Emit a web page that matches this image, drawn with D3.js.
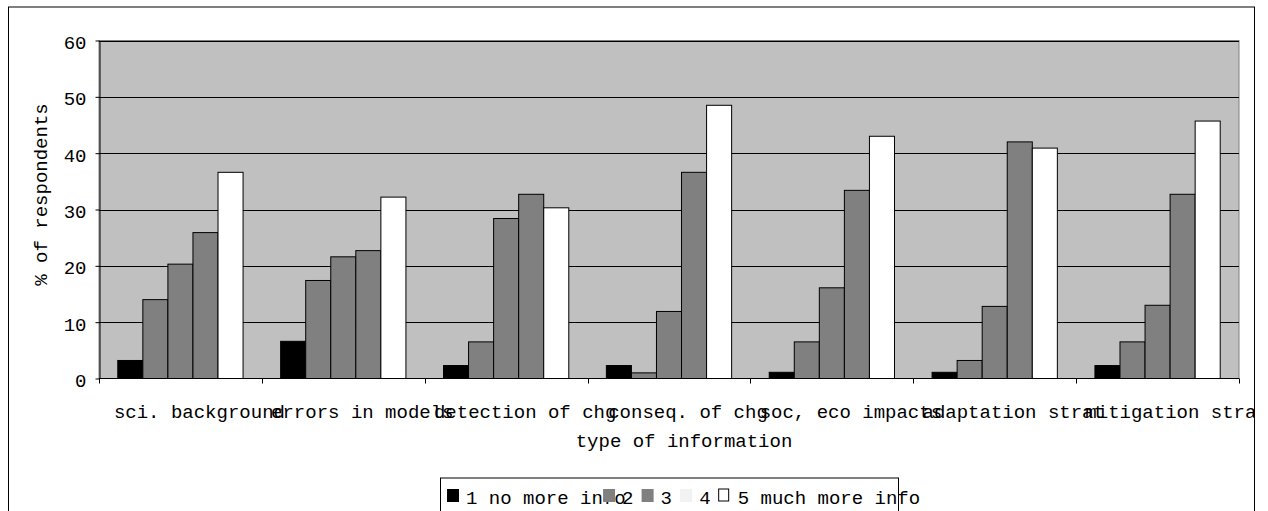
<!DOCTYPE html>
<html>
<head>
<meta charset="utf-8">
<script src="https://cdn.jsdelivr.net/npm/d3@7"></script>
<style>
  html, body { margin: 0; padding: 0; background: #fff; }
  svg { display: block; }
  text { font-family: "Courier New", "Liberation Mono", monospace; fill: #000; }
</style>
</head>
<body>
<svg id="chart" width="1268" height="511"></svg>
<script>
// Survey: how much more information respondents want, by type of information
const categories = ["sci. background", "errors in models", "detection of chg", "conseq. of chg",
                    "soc, eco impacts", "adaptation strat", "mitigation strat"];
const seriesNames = ["1 no more info", "2", "3", "4", "5 much more info"];
const s1 = [3.2, 6.6, 2.3, 2.3, 1.1, 1.1, 2.3];
const s2 = [14.0, 17.4, 6.5, 1.0, 6.5, 3.2, 6.5];
const s3 = [20.3, 21.6, 28.4, 11.9, 16.1, 12.8, 13.0];
const s4 = [25.9, 22.7, 32.7, 36.6, 33.4, 42.0, 32.7];
const s5 = [36.6, 32.2, 30.3, 48.5, 43.0, 40.9, 45.7];
const yTicks = [0, 10, 20, 30, 40, 50, 60];

const seriesValues = [s1, s2, s3, s4, s5];
const barColors = ["#000000", "#808080", "#808080", "#808080", "#ffffff"];
const legendColors = ["#000000", "#808080", "#808080", "#f2f2f2", "#ffffff"];
const legendStroke = [null, null, null, null, "#000"];

const svg = d3.select("#chart");

// plot area
const plot = { left: 99, right: 1239, top: 40.5, bottom: 378.5 };
const fontSize = 19;

// outer chart frame clips everything drawn inside it
svg.append("clipPath").attr("id", "frameClip")
  .append("rect").attr("x", 9).attr("y", 7).attr("width", 1245).attr("height", 520);

const root = svg.append("g").attr("clip-path", "url(#frameClip)");

const y = d3.scaleLinear().domain([0, 60]).range([plot.bottom, plot.top]);

// 150% gap between category groups
const gapRatio = 1.5 / 6.5;
const x0 = d3.scaleBand().domain(categories).range([plot.left, plot.right])
  .paddingInner(gapRatio).paddingOuter(gapRatio / 2);
const x1 = d3.scaleBand().domain(d3.range(seriesNames.length)).range([0, x0.bandwidth()]);

// plot background
root.append("rect")
  .attr("x", plot.left).attr("y", plot.top)
  .attr("width", plot.right - plot.left).attr("height", plot.bottom - plot.top)
  .attr("fill", "#c0c0c0").attr("stroke", "#808080").attr("stroke-width", 1);

// horizontal gridlines
root.append("g").selectAll("line").data(yTicks.filter(t => t > 0)).join("line")
  .attr("x1", plot.left).attr("x2", plot.right)
  .attr("y1", d => Math.round(y(d)) + 0.5).attr("y2", d => Math.round(y(d)) + 0.5)
  .attr("stroke", "#000").attr("stroke-width", 1);

// bars
const groups = root.append("g").selectAll("g").data(categories).join("g")
  .attr("transform", d => `translate(${x0(d)},0)`);
groups.selectAll("rect")
  .data((c, ci) => seriesValues.map((vals, si) => ({ si, v: vals[ci] })))
  .join("rect")
  .attr("x", d => x1(d.si))
  .attr("y", d => y(d.v))
  .attr("width", x1.bandwidth())
  .attr("height", d => y(0) - y(d.v))
  .attr("fill", d => barColors[d.si])
  .attr("stroke", "#000").attr("stroke-width", 1);

// y axis
const yAxis = d3.axisLeft(y).tickValues(yTicks).tickSize(4).tickPadding(9).tickSizeOuter(0);
const gy = root.append("g").attr("transform", `translate(${plot.left + 0.5},0)`).call(yAxis);
gy.select(".domain").attr("stroke", "#000");
gy.selectAll(".tick line").attr("stroke", "#000");
gy.selectAll(".tick text")
  .attr("font-size", fontSize).attr("dy", null).attr("y", 8)
  .attr("font-family", "'Courier New', 'Liberation Mono', monospace");

// x axis line and boundary ticks
root.append("line")
  .attr("x1", plot.left).attr("x2", plot.right)
  .attr("y1", plot.bottom).attr("y2", plot.bottom)
  .attr("stroke", "#000");
const boundaries = d3.range(categories.length + 1).map(i => plot.left + i * x0.step());
root.append("g").selectAll("line").data(boundaries).join("line")
  .attr("x1", d => Math.round(d) + 0.5).attr("x2", d => Math.round(d) + 0.5)
  .attr("y1", plot.bottom).attr("y2", plot.bottom + 5)
  .attr("stroke", "#000");

// category labels
const labelShift = 19;
root.append("g").selectAll("text").data(categories).join("text")
  .attr("x", d => x0(d) + x0.bandwidth() / 2 + labelShift)
  .attr("y", 418)
  .attr("text-anchor", "middle")
  .attr("font-size", fontSize)
  .text(d => d);

// axis titles
root.append("text")
  .attr("x", (plot.left + plot.right) / 2 + 15).attr("y", 447)
  .attr("text-anchor", "middle").attr("font-size", fontSize)
  .text("type of information");
root.append("text")
  .attr("transform", `translate(46.5,${(plot.top + plot.bottom) / 2 - 15}) rotate(-90)`)
  .attr("text-anchor", "middle").attr("font-size", fontSize)
  .text("% of respondents");

// legend
const legend = root.append("g");
legend.append("rect")
  .attr("x", 440.5).attr("y", 478).attr("width", 458).attr("height", 60)
  .attr("fill", "#fff").attr("stroke", "#000");
const layoutCharW = 9.04, swatchW = 12, textGap = 19, itemGap = 10.5;
let lx = 447;
seriesNames.forEach((name, i) => {
  const g = legend.append("g").attr("transform", `translate(${lx},0)`);
  g.append("rect")
    .attr("x", 0).attr("y", 489).attr("width", i === 4 ? 10 : swatchW).attr("height", i === 4 ? 12 : 13)
    .attr("fill", legendColors[i])
    .attr("stroke", legendStroke[i] || "none");
  g.append("text").attr("x", textGap).attr("y", 503.5).attr("font-size", fontSize).text(name);
  lx += textGap + name.length * layoutCharW + itemGap;
});

// chart frame
svg.append("rect")
  .attr("x", 8.5).attr("y", 7).attr("width", 1246).attr("height", 520)
  .attr("fill", "none").attr("stroke", "#000");
</script>
</body>
</html>
